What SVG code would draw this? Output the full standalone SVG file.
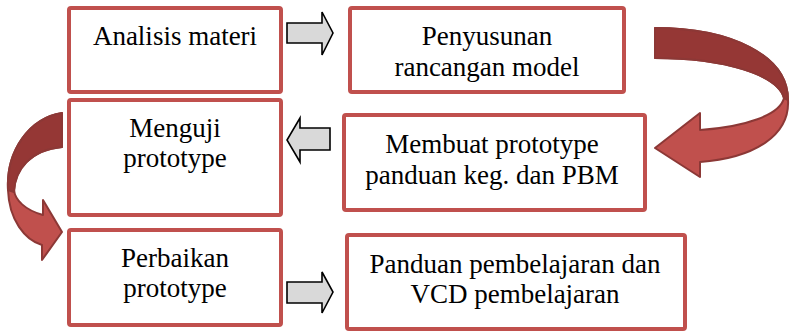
<svg xmlns="http://www.w3.org/2000/svg" width="793" height="332" viewBox="0 0 793 332">
<style>
.box{fill:#fff;stroke:#C0504D;stroke-width:4}
.blk{fill:#D9D9D9;stroke:#000;stroke-width:1.6;stroke-linejoin:miter}
.cl{fill:#C0504D;stroke:#8C3836;stroke-width:2;stroke-linejoin:round}
.cd{fill:#953735;stroke:#8C3836;stroke-width:2;stroke-linejoin:round}
</style>
<rect width="793" height="332" fill="#fff"/>
<g id="connectors">
<path class="blk" d="M287,23 H322 V12 L333,33 L322,55 V43 H287 Z"/>
<path class="blk" d="M330,128 H300 V118 L287,140 L300,162 V150 H330 Z"/>
<path class="blk" d="M287,282 H322 V272 L333,292 L322,313 V303 H287 Z"/>
<g id="curve-right">
<path class="cl" d="M655,28 C730,28 788,55 788,100 C790,135 755,158 700,162 L700,177 L655,148 L700,113 L700,130 C745,127 780,115 784,98 C778,75 725,58 655,58 Z"/>
<path class="cd" d="M655,28 C730,28 788,55 788,100 L784,98 C778,75 725,58 655,58 Z"/>
</g>
<g id="curve-left">
<path class="cl" d="M62,113 C30,118 6,150 8,190 C9,220 25,240 42,245 L42,260 L62,232 L43,200 L43,215 C25,210 15,200 14,190 C15,170 30,150 62,147 Z"/>
<path class="cd" d="M62,113 C30,118 6,150 8,190 L14,192 C15,170 30,150 62,147 Z"/>
</g>
</g>
<g font-family="Liberation Serif, serif" font-size="27" fill="#000" text-anchor="middle">
<g id="n1"><rect class="box" x="69" y="8" width="212" height="84" rx="2"/><text x="175" y="45">Analisis materi</text></g>
<g id="n2"><rect class="box" x="350" y="8" width="274" height="84" rx="2"/><text x="487" y="45">Penyusunan</text><text x="487" y="76">rancangan model</text></g>
<g id="n3"><rect class="box" x="69" y="100" width="212" height="115" rx="2"/><text x="175" y="137">Menguji</text><text x="175" y="167">prototype</text></g>
<g id="n4"><rect class="box" x="344" y="115" width="301" height="95" rx="2"/><text x="492" y="153">Membuat prototype</text><text x="492" y="184">panduan keg. dan PBM</text></g>
<g id="n5"><rect class="box" x="69" y="230" width="212" height="95" rx="2"/><text x="175" y="267">Perbaikan</text><text x="175" y="297">prototype</text></g>
<g id="n6"><rect class="box" x="347" y="235" width="338" height="94" rx="2"/><text x="515" y="273">Panduan pembelajaran dan</text><text x="515" y="303">VCD pembelajaran</text></g>
</g>
</svg>
